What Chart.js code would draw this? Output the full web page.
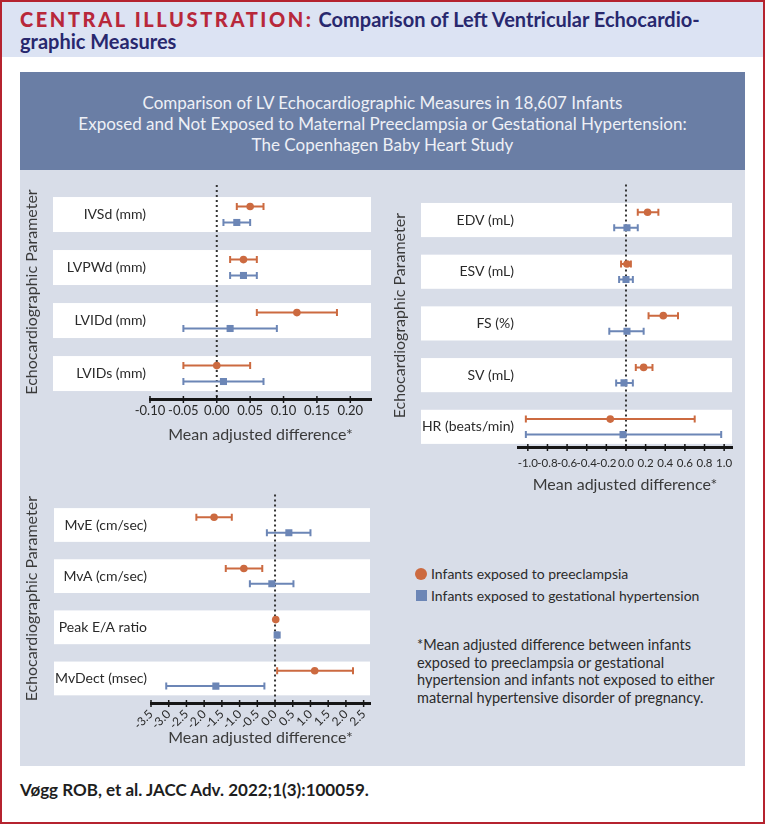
<!DOCTYPE html>
<html>
<head>
<meta charset="utf-8">
<script src="https://cdn.jsdelivr.net/npm/chart.js@4.4.1/dist/chart.umd.min.js"></script>
<style>
  body { margin: 0; width: 765px; height: 824px; position: relative; overflow: hidden; background: #fff; font-family: Lato, "Open Sans", sans-serif; }
  #frame { position: absolute; left: 0; top: 0; width: 761px; height: 820px; border: 2px solid #b5232f; }
  #hdrband { position: absolute; left: 2px; top: 2px; width: 761px; height: 55px; background: #dce3f3; }
  #hdr { position: absolute; left: 20px; top: 8px; font-size: 20px; font-weight: bold; line-height: 22px; color: #28286e; }
  #hdr .ci { color: #b8283a; letter-spacing: 2.6px; font-weight: 900; }
  #banner { position: absolute; left: 20px; top: 72px; width: 725px; height: 98px; background: #6a7ea5; color: #eef0f6; text-align: center; font-size: 17px; line-height: 21px; box-sizing: border-box; padding-top: 20px; }
  #panel { position: absolute; left: 20px; top: 170px; width: 725px; height: 596px; background: #d8dde8; }
  canvas { position: absolute; }
  .leg { position: absolute; left: 415px; font-size: 14px; color: #2b2b2b; line-height: 18px; }
  .dot { position: absolute; left: 0; top: 3px; width: 12px; height: 12px; border-radius: 50%; background: #cc6a40; }
  .sq { position: absolute; left: 1px; top: 3px; width: 11px; height: 11px; background: #6c86b6; }
  #note { position: absolute; left: 417px; top: 636px; font-size: 14.5px; line-height: 17.5px; color: #2b2b2b; }
  #cite { position: absolute; left: 20px; top: 779px; font-size: 17px; font-weight: bold; color: #1e1e1e; }
</style>
</head>
<body>
<div id="frame"></div>
<div id="hdrband"></div>
<div id="hdr"><span class="ci">CENTRAL ILLUSTRATION:</span> Comparison of Left Ventricular Echocardio-<br>graphic Measures</div>
<div id="banner">Comparison of LV Echocardiographic Measures in 18,607 Infants<br>Exposed and Not Exposed to Maternal Preeclampsia or Gestational Hypertension:<br>The Copenhagen Baby Heart Study</div>
<div id="panel"></div>
<canvas id="c1" width="360" height="290" style="left:20px;top:172px"></canvas>
<canvas id="c2" width="355" height="330" style="left:390px;top:172px"></canvas>
<canvas id="c3" width="360" height="275" style="left:20px;top:482px"></canvas>
<div class="leg" style="top:565px"><span class="dot"></span><span style="margin-left:16px">Infants exposed to preeclampsia</span></div>
<div class="leg" style="top:587px"><span class="sq"></span><span style="margin-left:16px">Infants exposed to gestational hypertension</span></div>
<div id="note">*Mean adjusted difference between infants<br>exposed to preeclampsia or gestational<br>hypertension and infants not exposed to either<br>maternal hypertensive disorder of pregnancy.</div>
<div id="cite">Vøgg ROB, et al. JACC Adv. 2022;1(3):100059.</div>

<script>
// LV structure (mm)
const cats1 = ["IVSd (mm)", "LVPWd (mm)", "LVIDd (mm)", "LVIDs (mm)"];
const pe1Mean = [0.05, 0.04, 0.12, 0.00];
const pe1Lo = [0.03, 0.02, 0.06, -0.05];
const pe1Hi = [0.07, 0.06, 0.18, 0.05];
const gh1Mean = [0.03, 0.04, 0.02, 0.01];
const gh1Lo = [0.01, 0.02, -0.05, -0.05];
const gh1Hi = [0.05, 0.06, 0.09, 0.07];
const ticks1 = [-0.10, -0.05, 0.00, 0.05, 0.10, 0.15, 0.20];

// volumes / function
const cats2 = ["EDV (mL)", "ESV (mL)", "FS (%)", "SV (mL)", "HR (beats/min)"];
const pe2Mean = [0.22, 0.01, 0.38, 0.18, -0.16];
const pe2Lo = [0.12, -0.05, 0.23, 0.10, -1.02];
const pe2Hi = [0.33, 0.05, 0.53, 0.27, 0.70];
const gh2Mean = [0.01, 0.00, 0.01, -0.02, -0.03];
const gh2Lo = [-0.12, -0.07, -0.17, -0.10, -1.02];
const gh2Hi = [0.12, 0.07, 0.18, 0.07, 0.97];
const ticks2 = [-1.0, -0.8, -0.6, -0.4, -0.2, 0.0, 0.2, 0.4, 0.6, 0.8, 1.0];

// diastolic
const cats3 = ["MvE (cm/sec)", "MvA (cm/sec)", "Peak E/A ratio", "MvDect (msec)"];
const pe3Mean = [-1.72, -0.88, 0.02, 1.12];
const pe3Lo = [-2.22, -1.39, 0.01, 0.06];
const pe3Hi = [-1.22, -0.36, 0.03, 2.20];
const gh3Mean = [0.39, -0.09, 0.06, -1.67];
const gh3Lo = [-0.23, -0.71, 0.04, -3.07];
const gh3Hi = [1.00, 0.52, 0.08, -0.30];
const ticks3 = [-3.5, -3.0, -2.5, -2.0, -1.5, -1.0, -0.5, 0.0, 0.5, 1.0, 1.5, 2.0, 2.5];

const ORANGE = "#cc6a40";
const BLUE = "#6c86b6";
const TXT = "#2a2a2a";

// white row bands, zero line, CI whiskers, axis tick marks
const forestPlugin = {
  id: "forest",
  beforeDraw(chart, args, o) {
    const { ctx, chartArea: ca, scales: { y } } = chart;
    ctx.save();
    ctx.fillStyle = "#ffffff";
    for (let i = 0; i < o.rows; i++) {
      const t = y.getPixelForValue(i - 0.33);
      const b = y.getPixelForValue(i + 0.33);
      ctx.fillRect(ca.left - 97, t, ca.right - ca.left + 97, b - t);
    }
    ctx.restore();
  },
  beforeDatasetsDraw(chart) {
    const { ctx, chartArea: ca, scales: { x, y } } = chart;
    ctx.save();
    const x0 = x.getPixelForValue(0);
    ctx.strokeStyle = "#333";
    ctx.lineWidth = 2;
    ctx.setLineDash([2, 3]);
    ctx.beginPath();
    ctx.moveTo(x0, ca.top);
    ctx.lineTo(x0, ca.bottom);
    ctx.stroke();
    ctx.setLineDash([]);
    chart.data.datasets.forEach((ds) => {
      ctx.strokeStyle = ds.borderColor;
      ctx.lineWidth = 2;
      ds.data.forEach((p, i) => {
        const yy = y.getPixelForValue(p.y);
        const xl = x.getPixelForValue(ds.lo[i]);
        const xh = x.getPixelForValue(ds.hi[i]);
        ctx.beginPath();
        ctx.moveTo(xl, yy); ctx.lineTo(xh, yy);
        ctx.moveTo(xl, yy - 3.5); ctx.lineTo(xl, yy + 3.5);
        ctx.moveTo(xh, yy - 3.5); ctx.lineTo(xh, yy + 3.5);
        ctx.stroke();
      });
    });
    ctx.restore();
  },
  afterDraw(chart) {
    const { ctx, chartArea: ca, scales: { x } } = chart;
    ctx.save();
    ctx.strokeStyle = "#161616";
    ctx.lineWidth = 1.5;
    x.ticks.forEach((t) => {
      const px = x.getPixelForValue(t.value);
      ctx.beginPath();
      ctx.moveTo(px, ca.bottom - 3);
      ctx.lineTo(px, ca.bottom + 4);
      ctx.stroke();
    });
    ctx.restore();
  },
};

function forest(id, g, cats, pe, gh, xr) {
  const canvas = document.getElementById(id);
  const left = parseFloat(canvas.style.left), top = parseFloat(canvas.style.top);
  const w = canvas.width, h = canvas.height;
  return new Chart(canvas, {
    type: "scatter",
    data: {
      datasets: [
        {
          label: "Infants exposed to preeclampsia",
          data: pe[0].map((v, i) => ({ x: v, y: i - 0.15 })),
          lo: pe[1], hi: pe[2],
          pointStyle: "circle", pointRadius: 3.8, pointHoverRadius: 3.8,
          backgroundColor: ORANGE, borderColor: ORANGE, borderWidth: 0,
        },
        {
          label: "Infants exposed to gestational hypertension",
          data: gh[0].map((v, i) => ({ x: v, y: i + 0.15 })),
          lo: gh[1], hi: gh[2],
          pointStyle: "rect", pointRadius: 5, pointHoverRadius: 5,
          backgroundColor: BLUE, borderColor: BLUE, borderWidth: 0,
        },
      ],
    },
    options: {
      responsive: false,
      animation: false,
      layout: { padding: { left: 0, top: g.caT - top, right: left + w - g.caR, bottom: 0 } },
      plugins: { legend: { display: false }, tooltip: { enabled: false }, forest: { rows: cats.length } },
      scales: {
        x: {
          type: "linear", min: xr.min, max: xr.max,
          afterBuildTicks: (s) => { s.ticks = xr.ticks.map((v) => ({ value: v })); },
          afterFit: (s) => { s.height = top + h - g.caB; },
          ticks: {
            callback: (v) => v.toFixed(xr.dec), autoSkip: false,
            minRotation: xr.rot, maxRotation: xr.rot,
            font: { family: "Lato", size: xr.fs }, color: TXT, padding: xr.pad,
          },
          grid: { display: false, drawTicks: false },
          border: { display: true, color: "#161616", width: 3 },
          title: {
            display: true, text: "Mean adjusted difference*",
            font: { family: "Lato", size: 16 }, color: "#3a3a3a",
            padding: { top: 0, bottom: top + h - g.xTitleY - 9.6 },
          },
        },
        y: {
          type: "linear", reverse: true, min: g.yMin, max: g.yMax,
          afterBuildTicks: (s) => { s.ticks = cats.map((c, i) => ({ value: i })); },
          afterFit: (s) => { s.width = g.caL - left; },
          ticks: { callback: (v) => cats[v], font: { family: "Lato", size: 14 }, color: TXT, padding: 4 },
          grid: { display: false, drawTicks: false },
          border: { display: false },
          title: {
            display: true, text: "Echocardiographic Parameter",
            font: { family: "Lato", size: 16 }, color: "#3a3a3a",
            padding: { top: g.yTitleX - left - 9.6, bottom: 0 },
          },
        },
      },
    },
    plugins: [forestPlugin],
  });
}

forest("c1",
  { caL: 150, caT: 185, caR: 371, caB: 399, yMin: -0.557, yMax: 3.48, yTitleX: 32, xTitleY: 435 },
  cats1, [pe1Mean, pe1Lo, pe1Hi], [gh1Mean, gh1Lo, gh1Hi],
  { min: -0.10, max: 0.231, ticks: ticks1, dec: 2, rot: 0, fs: 13, pad: 4 });

forest("c2",
  { caL: 518, caT: 178, caR: 732, caB: 447, yMin: -0.689, yMax: 4.39, yTitleX: 400, xTitleY: 485 },
  cats2, [pe2Mean, pe2Lo, pe2Hi], [gh2Mean, gh2Lo, gh2Hi],
  { min: -1.10, max: 1.08, ticks: ticks2, dec: 1, rot: 0, fs: 11.5, pad: 9 });

forest("c3",
  { caL: 151, caT: 488, caR: 370, caB: 703, yMin: -0.598, yMax: 3.48, yTitleX: 32, xTitleY: 738 },
  cats3, [pe3Mean, pe3Lo, pe3Hi], [gh3Mean, gh3Lo, gh3Hi],
  { min: -3.5, max: 2.68, ticks: ticks3, dec: 1, rot: 45, fs: 12, pad: 4 });
</script>
</body>
</html>
